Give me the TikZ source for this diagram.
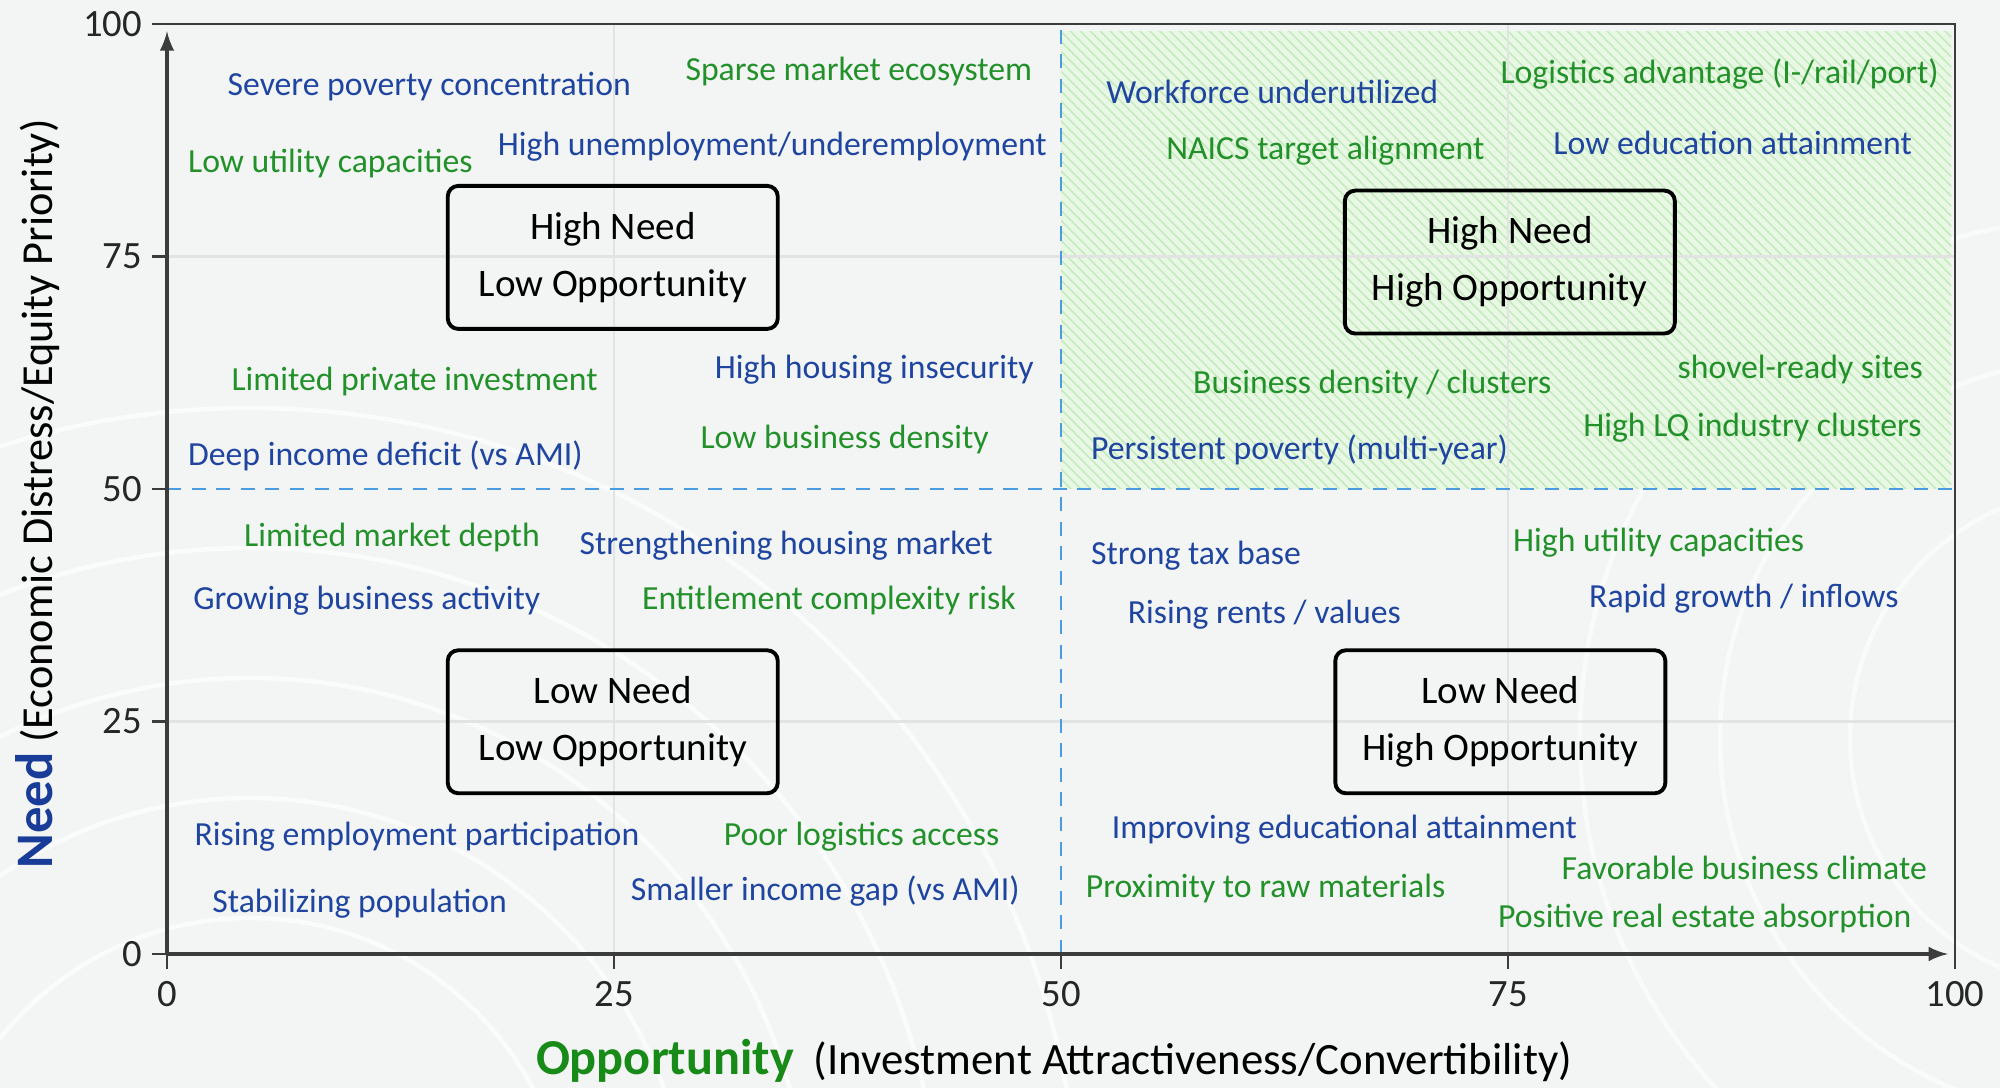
\documentclass[tikz,border=0pt]{standalone}
\usepackage{fontspec}
\setmainfont{Carlito}
\usetikzlibrary{patterns.meta}

\definecolor{needblue}{HTML}{1F45A0}
\definecolor{oppgreen}{HTML}{23912A}
\definecolor{titleblue}{HTML}{183C98}
\definecolor{titlegreen}{HTML}{178A17}
\definecolor{midblue}{HTML}{4A9BE0}
\definecolor{bggray}{HTML}{F3F5F5}
\definecolor{gridgray}{HTML}{E2E4E4}
\definecolor{axisgray}{HTML}{3C3C3C}
\definecolor{hatchgreen}{HTML}{C4EBBD}
\definecolor{hatchfill}{HTML}{E9F8E5}

\begin{document}
\begin{tikzpicture}[
    >=latex,
    needitem/.style={anchor=west, inner sep=0pt, yshift=-0.03cm, text=needblue, font=\fontsize{9.6}{11}\selectfont},
    oppitem/.style={anchor=west, inner sep=0pt, yshift=-0.03cm, text=oppgreen, font=\fontsize{9.6}{11}\selectfont},
    quadbox/.style={draw=black, line width=1.1pt, rounded corners=3pt, align=center,
        minimum width=3.3cm, minimum height=1.43cm, inner sep=0pt, font=\fontsize{11.1}{16.3}\selectfont},
    ticklbl/.style={font=\fontsize{11}{13}\selectfont, text=black!85, inner sep=0pt},
    axisline/.style={draw=axisgray, line width=0.9pt},
    gridline/.style={draw=gridgray, line width=0.6pt},
    midline/.style={draw=midblue, line width=0.7pt, dash pattern=on 4pt off 3pt}
]
% Background
\useasboundingbox (0,0) rectangle (20,10.88);
\fill[bggray] (0,0) rectangle (20,10.88);
\begin{scope}
\clip (0,0) rectangle (20,10.88);
\foreach \r in {3.2,4.4,5.6,6.9,8.3}
    \draw[white, line width=1.3pt, opacity=0.6] (2.5,-1.5) circle (\r);
\foreach \r in {2.5,3.8,5.2}
    \draw[white, line width=1.3pt, opacity=0.5] (21,3.5) circle (\r);
\end{scope}

% Axis titles
\node[rotate=90, font=\fontsize{12.6}{14}\selectfont] (ytitle) at (0.38,5.94)
    {{\fontsize{15}{16}\selectfont\bfseries\color{titleblue}Need} (Economic Distress/Equity Priority)};
\node[font=\fontsize{12.75}{14}\selectfont] (xtitle) at (10.54,0.27)
    {{\fontsize{14.3}{16}\selectfont\bfseries\color{titlegreen}Opportunity}\hspace{0.45em}(Investment Attractiveness/Convertibility)};

\begin{scope}[shift={(1.67,1.34)}, x=0.1788cm, y=0.093cm]
% Shaded quadrant
\fill[hatchfill] (50,50) rectangle (99.8,99.2);
\fill[pattern={Lines[angle=-45, distance=2pt, line width=0.45pt]}, pattern color=hatchgreen]
    (50,50) rectangle (99.8,99.2);

% Grid
\foreach \v in {25,75} {
    \draw[gridline] (\v,0) -- (\v,100);
    \draw[gridline] (0,\v) -- (100,\v);
}
\draw[midline] (50,0) -- (50,100);
\draw[midline] (0,50) -- (100,50);

% Axes
\coordinate (origin) at (0,0);
\coordinate (xend) at (99.6,0);
\coordinate (yend) at (0,99.2);
\coordinate (topleft) at (-0.84,100);
\coordinate (topright) at (100,100);
\coordinate (rightfoot) at (100,-1.6);
\draw[axisline, ->] (origin) -- (xend);
\draw[axisline, ->] (origin) -- (yend);
\draw[axisline, line width=0.8pt] (topleft) -- (topright) -- (rightfoot);
\foreach \v in {0,25,50,75} {
    \draw[axisline, line width=0.8pt] (-0.84,\v) -- (0,\v);
    \draw[axisline, line width=0.8pt] (\v,-1.6) -- (\v,0);
}
\foreach \v in {0,25,50,75,100} {
    \node[ticklbl, anchor=east] (ylbl\v) at (-1.35,\v) {\v};
    \node[ticklbl, anchor=north] (xlbl\v) at (\v,-2.9) {\v};
}

% Quadrant boxes
\node[quadbox] (hnlo) at (24.93,74.9) {High Need\\Low Opportunity};
\node[quadbox] (hnho) at (75.1,74.4) {High Need\\High Opportunity};
\node[quadbox] (lnlo) at (24.93,24.97) {Low Need\\Low Opportunity};
\node[quadbox] (lnho) at (74.57,24.97) {Low Need\\High Opportunity};

% High need, low opportunity
\node[needitem] (sevpov) at (3.35,93.6) {Severe poverty concentration};
\node[oppitem] (sparse) at (28.96,95.2) {Sparse market ecosystem};
\node[oppitem] (lowutil) at (1.14,85.3) {Low utility capacities};
\node[needitem] (unemp) at (18.47,87.1) {High unemployment/underemployment};
\node[oppitem] (limpriv) at (3.57,61.9) {Limited private investment};
\node[needitem] (housing) at (30.6,63.2) {High housing insecurity};
\node[oppitem] (lowbus) at (29.8,55.6) {Low business density};
\node[needitem] (deepinc) at (1.14,53.9) {Deep income deficit (vs AMI)};

% Low need, low opportunity
\node[oppitem] (limmkt) at (4.28,45.1) {Limited market depth};
\node[needitem] (strhous) at (23.04,44.2) {Strengthening housing market};
\node[needitem] (growbus) at (1.43,38.3) {Growing business activity};
\node[oppitem] (entitle) at (26.53,38.3) {Entitlement complexity risk};
\node[needitem] (riseemp) at (1.5,12.9) {Rising employment participation};
\node[oppitem] (poorlog) at (31.1,12.9) {Poor logistics access};
\node[needitem] (stabpop) at (2.5,5.76) {Stabilizing population};
\node[needitem] (smallgap) at (25.9,7.13) {Smaller income gap (vs AMI)};

% High need, high opportunity
\node[needitem] (workforce) at (52.5,93.0) {Workforce underutilized};
\node[oppitem] (logadv) at (74.54,94.9) {Logistics advantage (I-/rail/port)};
\node[oppitem] (naics) at (55.85,86.7) {NAICS target alignment};
\node[needitem] (lowedu) at (77.5,87.5) {Low education attainment};
\node[oppitem] (busdens) at (57.35,61.6) {Business density / clusters};
\node[oppitem] (shovel) at (84.45,63.2) {shovel-ready sites};
\node[oppitem] (highlq) at (79.17,56.9) {High LQ industry clusters};
\node[needitem] (perspov) at (51.64,54.5) {Persistent poverty (multi-year)};

% Low need, high opportunity
\node[needitem] (taxbase) at (51.64,43.1) {Strong tax base};
\node[oppitem] (highutil) at (75.25,44.6) {High utility capacities};
\node[needitem] (rents) at (53.7,36.8) {Rising rents / values};
\node[needitem] (rapid) at (79.5,38.5) {Rapid growth / inflows};
\node[needitem] (impedu) at (52.8,13.7) {Improving educational attainment};
\node[oppitem] (favbus) at (77.96,9.6) {Favorable business climate};
\node[oppitem] (rawmat) at (51.35,7.4) {Proximity to raw materials};
\node[oppitem] (absorb) at (74.4,4.1) {Positive real estate absorption};
\end{scope}
\end{tikzpicture}
\end{document}
